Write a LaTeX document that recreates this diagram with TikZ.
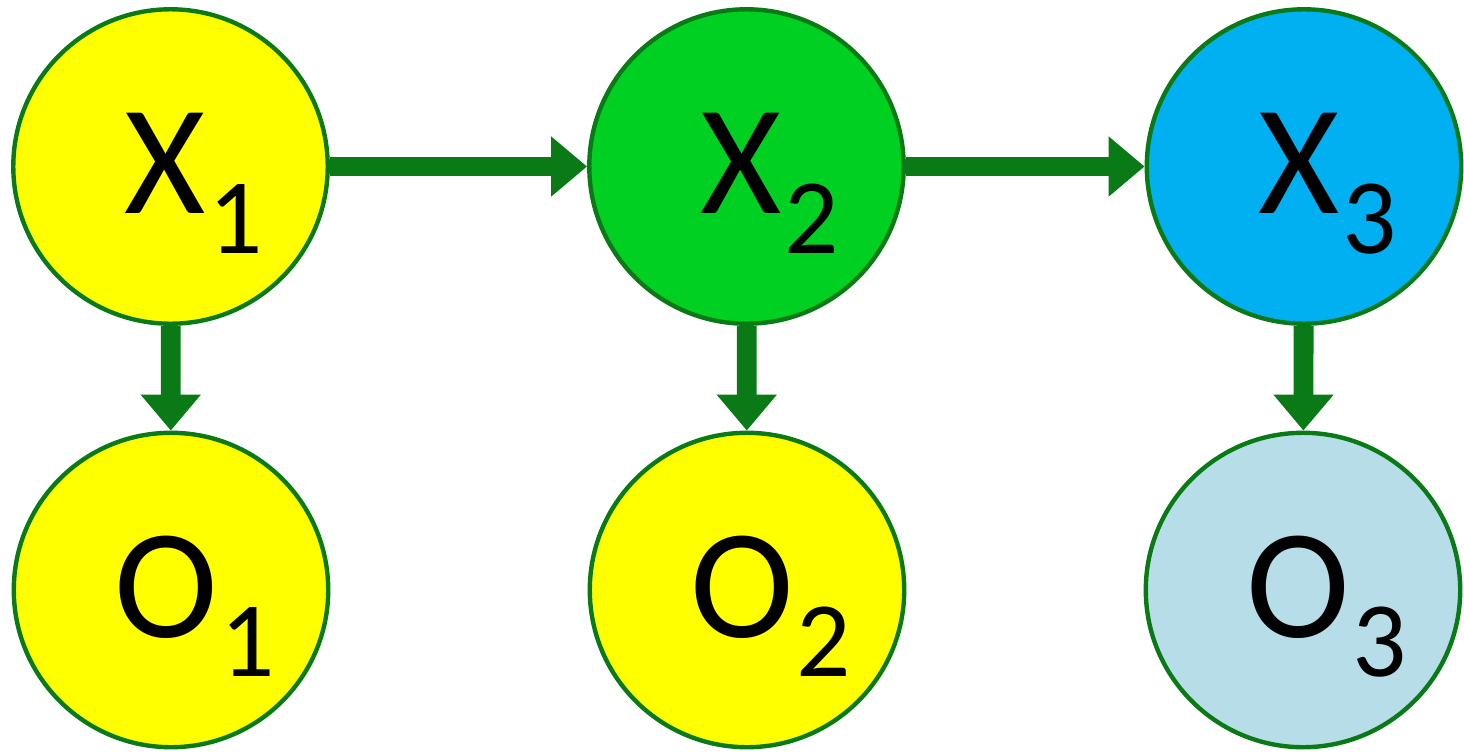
\documentclass[tikz,border=0pt]{standalone}
\usepackage{fontspec}
\setmainfont{Carlito}
\usepackage{tikz}
\usetikzlibrary{arrows.meta,positioning}
\definecolor{edgegreen}{HTML}{0A7A16}
\definecolor{hidgreen}{HTML}{00D021}
\definecolor{hidblue}{HTML}{00B0F0}
\definecolor{obsblue}{HTML}{B7DEE8}
\definecolor{obsyel}{HTML}{FFFF00}
% letter with a lowered index that does not count in the width
\newcommand{\varlab}[2]{#1\rlap{\kern1.5pt\raisebox{-22.5pt}{\fontsize{61}{61}\selectfont #2}}}

\begin{document}
\begin{tikzpicture}[x=0.02cm,y=-0.02cm,
  state/.style={circle, draw=edgegreen, line width=2.5pt, minimum size=6.29cm, inner sep=0pt},
  lbl/.style={font=\fontsize{89}{89}\selectfont, anchor=base, inner sep=0pt, xshift=-0.1cm, yshift=-0.94cm},
  arc/.style={-{Triangle[length=20.5pt,width=33pt]}, edgegreen, line width=11.3pt}]
  \useasboundingbox (0,0) rectangle (1464,754);
  % hidden states
  \node[state, fill=obsyel]   (X1) at (170.5,166.5) {};
  \node[state, fill=hidgreen] (X2) at (746.5,166.5) {};
  \node[state, fill=hidblue]  (X3) at (1304,166.5)  {};
  % observations
  \node[state, fill=obsyel]   (O1) at (171,590)  {};
  \node[state, fill=obsyel]   (O2) at (747,590)  {};
  \node[state, fill=obsblue]  (O3) at (1303,590) {};
  % labels
  \node[lbl] (tX1) at (X1) {\varlab{X}{1}};
  \node[lbl] (tX2) at (X2) {\varlab{X}{2}};
  \node[lbl] (tX3) at (X3) {\varlab{X}{3}};
  \node[lbl] (tO1) at (O1) {\varlab{O}{1}};
  \node[lbl] (tO2) at (O2) {\varlab{O}{2}};
  \node[lbl] (tO3) at (O3) {\varlab{O}{3}};
  % transitions and emissions
  \draw[arc] (X1) -- (X2);
  \draw[arc] (X2) -- (X3);
  \draw[arc] (X1) -- (O1);
  \draw[arc] (X2) -- (O2);
  \draw[arc] (X3) -- (O3);
\end{tikzpicture}
\end{document}
